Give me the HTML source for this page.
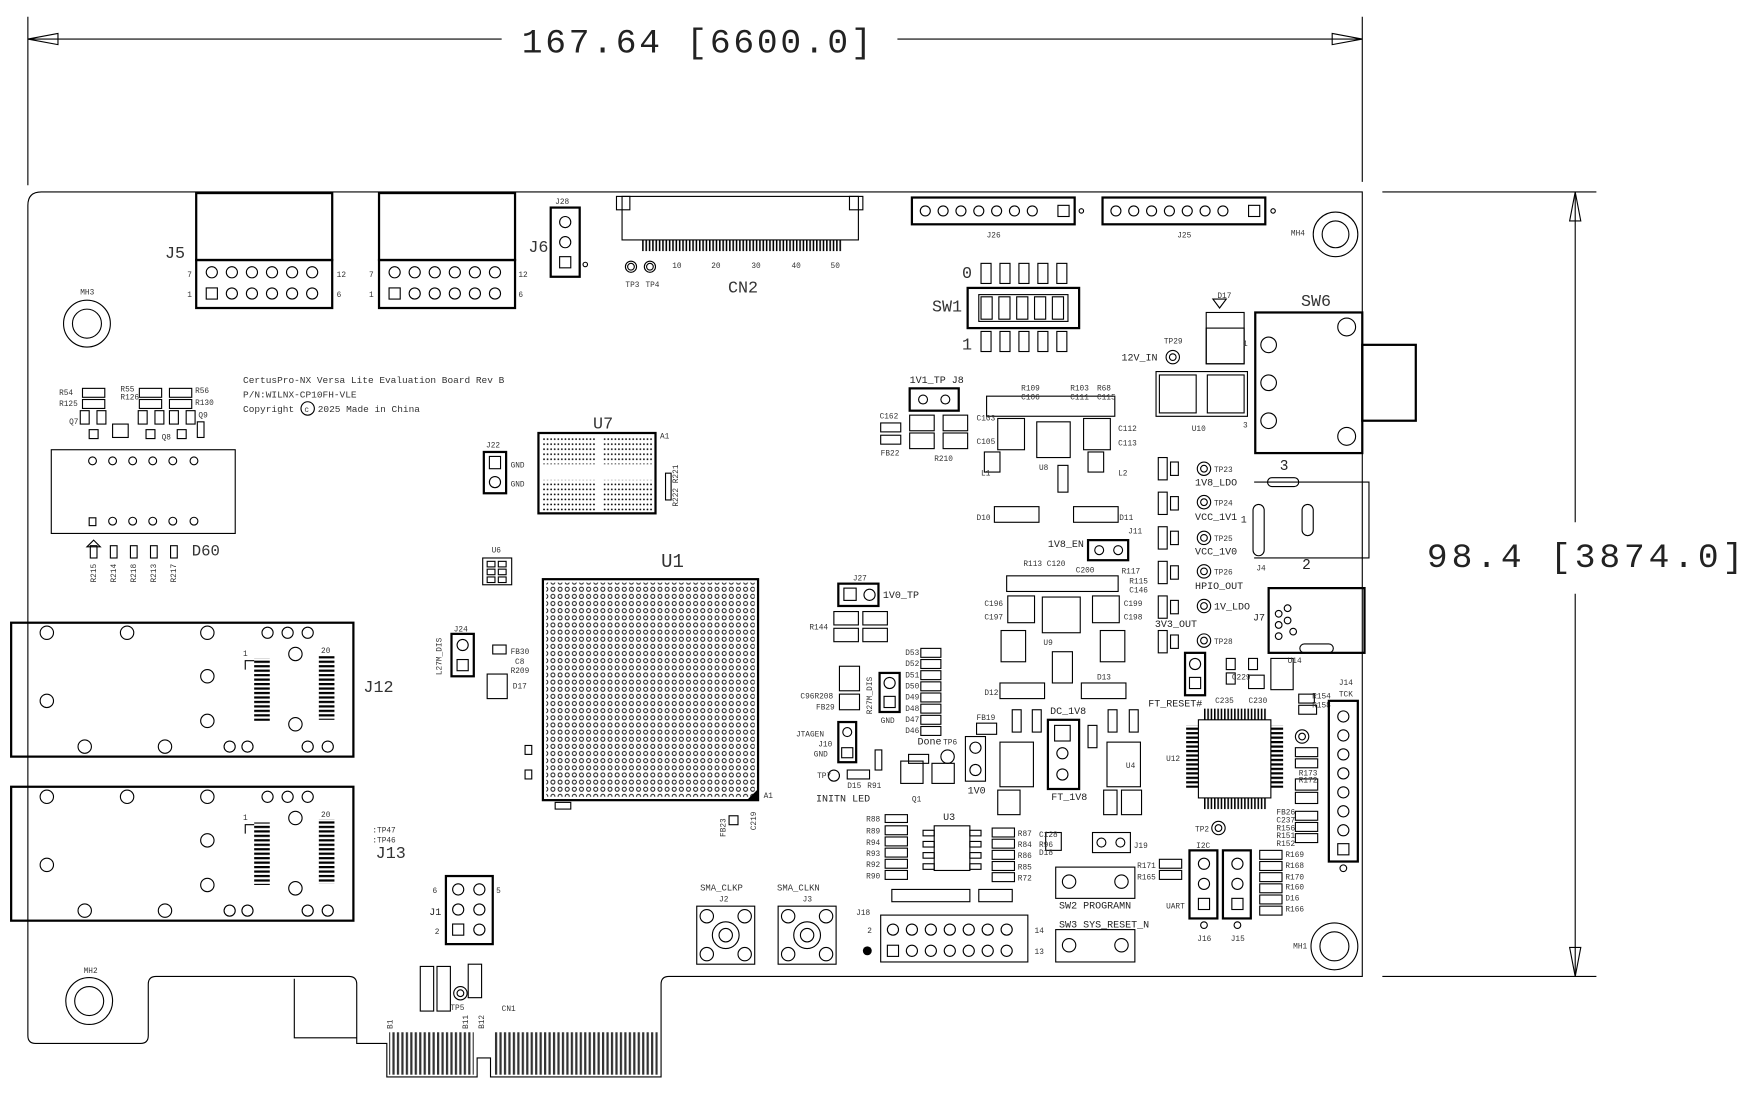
<!DOCTYPE html>
<html><head><meta charset="utf-8"><style>
html,body{margin:0;padding:0;background:#fff}
svg{display:block}
text{font-family:"Liberation Mono",monospace;fill:#222}
.s{fill:none;stroke:#000;stroke-width:1}
.t{fill:none;stroke:#000;stroke-width:2}
.l{font-size:7px;fill:#333}
.m{font-size:9px}
.b{font-family:"Liberation Mono",monospace;font-size:15px;fill:#333}
</style></head><body>
<svg width="1748" height="1097" viewBox="0 0 1568 983" preserveAspectRatio="none" xmlns="http://www.w3.org/2000/svg">
<defs>
<pattern id="bga" width="6.4" height="6.4" patternUnits="userSpaceOnUse"><circle cx="3.2" cy="3.2" r="1.8" fill="none" stroke="#000" stroke-width="0.8"/></pattern>
<pattern id="dots" width="3.2" height="4.5" patternUnits="userSpaceOnUse"><circle cx="1.6" cy="2" r="0.8" fill="#000"/></pattern>
<pattern id="teeth" width="3" height="10" patternUnits="userSpaceOnUse"><rect x="0" y="0" width="1.4" height="10" fill="#000"/></pattern>
<pattern id="pins" width="4" height="4" patternUnits="userSpaceOnUse"><rect x="0" y="0" width="4" height="2" fill="#000"/></pattern>
<pattern id="vpins" width="4" height="4" patternUnits="userSpaceOnUse"><rect x="0" y="0" width="2" height="4" fill="#000"/></pattern>
</defs>

<!-- dimensions -->
<g class="s">
<line x1="25" y1="15" x2="25" y2="166"/><line x1="1222" y1="15" x2="1222" y2="163"/>
<line x1="25" y1="35" x2="450" y2="35"/><line x1="805" y1="35" x2="1222" y2="35"/>
<path d="M25 35 L52 30 L52 40 Z"/><path d="M1222 35 L1195 30 L1195 40 Z"/>
<line x1="1240" y1="172" x2="1432" y2="172"/><line x1="1240" y1="875" x2="1432" y2="875"/>
<line x1="1413" y1="172" x2="1413" y2="468"/><line x1="1413" y1="532" x2="1413" y2="875"/>
<path d="M1413 172 L1408 198 L1418 198 Z"/><path d="M1413 875 L1408 849 L1418 849 Z"/>
</g>
<text x="468" y="47" style="font-size:31px;letter-spacing:2.5px;fill:#222">167.64 [6600.0]</text>
<text x="1280" y="508" style="font-size:31px;letter-spacing:3.5px;fill:#222">98.4 [3874.0]</text>

<!-- board outline -->
<path class="s" d="M25 184 Q25 172 37 172 L1222 172 L1222 875 L600 875 Q593 875 593 882 L593 965 L440 965 L440 948 L428 948 L428 965 L347 965 L347 935 L320 935 L320 882 Q320 875 313 875 L140 875 Q133 875 133 882 L133 928 Q133 935 126 935 L32 935 Q25 935 25 928 Z"/>
<path class="s" d="M264 877 L264 930 L320 930"/>
<rect x="349" y="925" width="76" height="38" fill="url(#vpins)" opacity="0.8"/>
<rect x="443" y="925" width="147" height="38" fill="url(#vpins)" opacity="0.8"/>
<text x="348" y="918" class="l" transform="rotate(-90 352 918)">B1</text>
<text x="416" y="918" class="l" transform="rotate(-90 420 918)">B11</text>
<text x="430" y="918" class="l" transform="rotate(-90 434 918)">B12</text>
<text x="450" y="906" class="l">CN1</text>

<!-- mounting holes -->
<g class="s">
<circle cx="78" cy="290" r="21"/><circle cx="78" cy="290" r="13"/>
<circle cx="1198" cy="210" r="20"/><circle cx="1198" cy="210" r="12"/>
<circle cx="80" cy="897" r="21"/><circle cx="80" cy="897" r="13"/>
<circle cx="1197" cy="848" r="21"/><circle cx="1197" cy="848" r="13"/>
</g>
<text x="72" y="264" class="l">MH3</text><text x="1158" y="211" class="l">MH4</text>
<text x="75" y="872" class="l">MH2</text><text x="1160" y="850" class="l">MH1</text>

<!-- J5 and second header -->
<g class="t">
<rect x="176" y="173" width="122" height="60"/><rect x="176" y="233" width="122" height="43"/>
<rect x="340" y="173" width="122" height="60"/><rect x="340" y="233" width="122" height="43"/>
</g>
<g class="s">
<circle cx="190" cy="244" r="5"/><circle cx="208" cy="244" r="5"/><circle cx="226" cy="244" r="5"/><circle cx="244" cy="244" r="5"/><circle cx="262" cy="244" r="5"/><circle cx="280" cy="244" r="5"/>
<rect x="185" y="258" width="10" height="10"/><circle cx="208" cy="263" r="5"/><circle cx="226" cy="263" r="5"/><circle cx="244" cy="263" r="5"/><circle cx="262" cy="263" r="5"/><circle cx="280" cy="263" r="5"/>
<circle cx="354" cy="244" r="5"/><circle cx="372" cy="244" r="5"/><circle cx="390" cy="244" r="5"/><circle cx="408" cy="244" r="5"/><circle cx="426" cy="244" r="5"/><circle cx="444" cy="244" r="5"/>
<rect x="349" y="258" width="10" height="10"/><circle cx="372" cy="263" r="5"/><circle cx="390" cy="263" r="5"/><circle cx="408" cy="263" r="5"/><circle cx="426" cy="263" r="5"/><circle cx="444" cy="263" r="5"/>
</g>
<text x="148" y="231" class="b">J5</text>
<text x="168" y="248" class="l">7</text><text x="168" y="266" class="l">1</text><text x="302" y="248" class="l">12</text><text x="302" y="266" class="l">6</text>
<text x="331" y="248" class="l">7</text><text x="331" y="266" class="l">1</text><text x="465" y="248" class="l">12</text><text x="465" y="266" class="l">6</text>

<!-- J28/J6 -->
<rect class="t" x="494" y="186" width="26" height="62"/>
<g class="s"><circle cx="507" cy="199" r="5"/><circle cx="507" cy="217" r="5"/><rect x="502" y="230" width="10" height="10"/><circle cx="525" cy="237" r="2"/></g>
<text x="498" y="183" class="l">J28</text><text x="474" y="226" class="b">J6</text>

<!-- CN2 -->
<rect class="s" x="558" y="176" width="212" height="39"/>
<rect class="s" x="553" y="176" width="12" height="12"/><rect class="s" x="762" y="176" width="12" height="12"/>
<rect x="575" y="215" width="180" height="10" fill="url(#teeth)"/>
<g class="s"><circle cx="566" cy="239" r="5"/><circle cx="566" cy="239" r="3"/><circle cx="583" cy="239" r="5"/><circle cx="583" cy="239" r="3"/></g>
<text x="603" y="240" class="l">10</text><text x="638" y="240" class="l">20</text><text x="674" y="240" class="l">30</text><text x="710" y="240" class="l">40</text><text x="745" y="240" class="l">50</text>
<text x="561" y="257" class="l">TP3</text><text x="579" y="257" class="l">TP4</text>
<text x="653" y="262" class="b">CN2</text>

<!-- J26 J25 -->
<rect class="t" x="818" y="177" width="146" height="24"/><rect class="t" x="989" y="177" width="146" height="24"/>
<g class="s">
<circle cx="830" cy="189" r="4.5"/><circle cx="846" cy="189" r="4.5"/><circle cx="862" cy="189" r="4.5"/><circle cx="878" cy="189" r="4.5"/><circle cx="894" cy="189" r="4.5"/><circle cx="910" cy="189" r="4.5"/><circle cx="926" cy="189" r="4.5"/><rect x="949" y="184" width="10" height="10"/>
<circle cx="1001" cy="189" r="4.5"/><circle cx="1017" cy="189" r="4.5"/><circle cx="1033" cy="189" r="4.5"/><circle cx="1049" cy="189" r="4.5"/><circle cx="1065" cy="189" r="4.5"/><circle cx="1081" cy="189" r="4.5"/><circle cx="1097" cy="189" r="4.5"/><rect x="1120" y="184" width="10" height="10"/>
<circle cx="970" cy="189" r="2"/><circle cx="1142" cy="189" r="2"/>
</g>
<text x="885" y="213" class="l">J26</text><text x="1056" y="213" class="l">J25</text>

<!-- SW1 -->
<g class="s">
<rect x="880" y="236" width="9" height="18"/><rect x="897" y="236" width="9" height="18"/><rect x="914" y="236" width="9" height="18"/><rect x="931" y="236" width="9" height="18"/><rect x="948" y="236" width="9" height="18"/>
<rect x="880" y="297" width="9" height="18"/><rect x="897" y="297" width="9" height="18"/><rect x="914" y="297" width="9" height="18"/><rect x="931" y="297" width="9" height="18"/><rect x="948" y="297" width="9" height="18"/>
<rect x="878" y="264" width="80" height="24"/>
<path d="M880 266h10v20h-10z M896 266h10v20h-10z M912 266h10v20h-10z M928 266h10v20h-10z M944 266h10v20h-10z"/>
</g>
<rect class="t" x="868" y="258" width="100" height="36"/>
<text x="863" y="249" class="b">0</text><text x="863" y="313" class="b">1</text><text x="836" y="279" class="b">SW1</text>

<!-- SW6, D17, U10, J4, J7 -->
<rect class="t" x="1126" y="280" width="96" height="126"/>
<rect class="t" x="1222" y="309" width="48" height="68"/>
<g class="s">
<circle cx="1208" cy="293" r="8"/><circle cx="1208" cy="391" r="8"/><circle cx="1138" cy="309" r="7"/><circle cx="1138" cy="343" r="7"/><circle cx="1138" cy="377" r="7"/>
<rect x="1082" y="280" width="34" height="46"/><rect x="1082" y="294" width="34" height="32"/><path d="M1088 268 L1094 276 L1100 268 Z"/>
<rect x="1040" y="336" width="33" height="34"/><rect x="1083" y="336" width="33" height="34"/><path d="M1037 333 h82 v40 h-82 z"/>
<circle cx="1052" cy="320" r="6"/><circle cx="1052" cy="320" r="3"/>
<path d="M1125 432 L1228 432 L1228 500 L1125 500"/><rect x="1137" y="428" width="28" height="8" rx="4"/><rect x="1168" y="452" width="10" height="28" rx="5"/><rect x="1124" y="452" width="10" height="46" rx="5"/>
<rect x="1166" y="577" width="30" height="8" rx="4"/>
<circle cx="1147" cy="550" r="3"/><circle cx="1155" cy="545" r="3"/><circle cx="1147" cy="560" r="3"/><circle cx="1155" cy="556" r="3"/><circle cx="1147" cy="570" r="3"/><circle cx="1160" cy="566" r="3"/>
</g>
<rect class="t" x="1138" y="527" width="86" height="58"/>
<text x="1167" y="274" class="b">SW6</text><text x="1092" y="267" class="l">D17</text><text x="1044" y="308" class="l">TP29</text>
<text x="1006" y="323" class="m">12V_IN</text><text x="1069" y="386" class="l">U10</text>
<text x="1115" y="310" class="l">1</text><text x="1115" y="383" class="l">3</text>
<text x="1148" y="421" class="m" style="font-size:13px">3</text><text x="1168" y="510" class="m" style="font-size:13px">2</text>
<text x="1127" y="511" class="l">J4</text><text x="1124" y="556" class="m">J7</text><text x="1113" y="468" class="m">1</text>

<!-- TP column right of center -->
<g class="s">
<circle cx="1080" cy="420" r="6"/><circle cx="1080" cy="420" r="3"/>
<circle cx="1080" cy="450" r="6"/><circle cx="1080" cy="450" r="3"/>
<circle cx="1080" cy="482" r="6"/><circle cx="1080" cy="482" r="3"/>
<circle cx="1080" cy="512" r="6"/><circle cx="1080" cy="512" r="3"/>
<circle cx="1080" cy="543" r="6"/><circle cx="1080" cy="543" r="3"/>
<circle cx="1080" cy="574" r="6"/><circle cx="1080" cy="574" r="3"/>
<rect x="1039" y="410" width="8" height="20"/><rect x="1039" y="441" width="8" height="20"/><rect x="1039" y="472" width="8" height="20"/><rect x="1039" y="503" width="8" height="20"/><rect x="1039" y="534" width="8" height="20"/><rect x="1039" y="565" width="8" height="20"/>
<rect x="1050" y="414" width="7" height="12"/><rect x="1050" y="445" width="7" height="12"/><rect x="1050" y="476" width="7" height="12"/><rect x="1050" y="507" width="7" height="12"/><rect x="1050" y="538" width="7" height="12"/><rect x="1050" y="569" width="7" height="12"/>
</g>
<text x="1089" y="423" class="l">TP23</text><text x="1072" y="435" class="m">1V8_LDO</text>
<text x="1089" y="453" class="l">TP24</text><text x="1072" y="466" class="m">VCC_1V1</text>
<text x="1089" y="485" class="l">TP25</text><text x="1072" y="497" class="m">VCC_1V0</text>
<text x="1089" y="515" class="l">TP26</text><text x="1072" y="528" class="m">HPIO_OUT</text>
<text x="1089" y="546" class="m">1V_LDO</text><text x="1036" y="562" class="m">3V3_OUT</text>
<text x="1089" y="577" class="l">TP28</text>

<!-- U7 -->
<rect class="t" x="483" y="388" width="105" height="72"/>
<rect x="486" y="392" width="48" height="24" fill="url(#dots)"/><rect x="540" y="392" width="45" height="24" fill="url(#dots)"/>
<rect x="486" y="430" width="48" height="28" fill="url(#dots)"/><rect x="540" y="430" width="45" height="28" fill="url(#dots)"/>
<text x="532" y="384" class="b">U7</text><text x="592" y="393" class="l">A1</text>
<rect class="s" x="597" y="424" width="5" height="24"/>
<text x="606" y="452" class="l" transform="rotate(-90 608 452)">R222 R221</text>

<!-- J22 -->
<rect class="t" x="434" y="405" width="20" height="37"/>
<g class="s"><rect x="439" y="409" width="10" height="11"/><circle cx="444" cy="432" r="5"/></g>
<text x="436" y="401" class="l">J22</text><text x="458" y="419" class="l">GND</text><text x="458" y="436" class="l">GND</text>

<!-- text block -->
<text x="218" y="343" class="l" style="font-size:8.5px">CertusPro-NX Versa Lite Evaluation Board Rev B</text>
<text x="218" y="356" class="l" style="font-size:8.5px">P/N:WILNX-CP10FH-VLE</text>
<text x="218" y="369" class="l" style="font-size:8.5px">Copyright</text><circle class="s" cx="276" cy="366" r="6"/><text x="273" y="369" class="l">c</text>
<text x="285" y="369" class="l" style="font-size:8.5px">2025 Made in China</text>

<!-- left small parts -->
<g class="s">
<rect x="74" y="348" width="20" height="8"/><rect x="74" y="358" width="20" height="8"/>
<rect x="125" y="348" width="20" height="8"/><rect x="125" y="358" width="20" height="8"/>
<rect x="152" y="348" width="20" height="8"/><rect x="152" y="358" width="20" height="8"/>
<rect x="72" y="368" width="8" height="12"/><rect x="87" y="368" width="8" height="12"/><rect x="80" y="385" width="8" height="8"/>
<rect x="124" y="368" width="8" height="12"/><rect x="139" y="368" width="8" height="12"/><rect x="131" y="385" width="8" height="8"/>
<rect x="152" y="368" width="8" height="12"/><rect x="167" y="368" width="8" height="12"/><rect x="159" y="385" width="8" height="8"/>
<rect x="101" y="380" width="14" height="12"/><rect x="177" y="378" width="6" height="14"/>
</g>
<text x="53" y="354" class="l">R54</text><text x="53" y="364" class="l">R125</text><text x="108" y="351" class="l">R55</text><text x="108" y="358" class="l">R126</text>
<text x="175" y="352" class="l">R56</text><text x="175" y="363" class="l">R130</text><text x="62" y="380" class="l">Q7</text><text x="145" y="394" class="l">Q8</text><text x="178" y="374" class="l">Q9</text>

<!-- D60 -->
<rect class="s" x="46" y="403" width="165" height="75"/>
<g class="s">
<circle cx="83" cy="413" r="3.5"/><circle cx="101" cy="413" r="3.5"/><circle cx="119" cy="413" r="3.5"/><circle cx="137" cy="413" r="3.5"/><circle cx="155" cy="413" r="3.5"/><circle cx="174" cy="413" r="3.5"/>
<rect x="80" y="464" width="6" height="7"/><circle cx="101" cy="467" r="3.5"/><circle cx="119" cy="467" r="3.5"/><circle cx="137" cy="467" r="3.5"/><circle cx="155" cy="467" r="3.5"/><circle cx="174" cy="467" r="3.5"/>
<path d="M78 490 L84 484 L90 490 Z"/>
<rect x="81" y="489" width="6" height="11"/><rect x="99" y="489" width="6" height="11"/><rect x="117" y="489" width="6" height="11"/><rect x="135" y="489" width="6" height="11"/><rect x="153" y="489" width="6" height="11"/>
</g>
<text x="172" y="498" class="b" style="font-size:14px">D60</text>
<text x="86" y="522" class="l" transform="rotate(-90 86 522)">R215</text><text x="104" y="522" class="l" transform="rotate(-90 104 522)">R214</text><text x="122" y="522" class="l" transform="rotate(-90 122 522)">R218</text><text x="140" y="522" class="l" transform="rotate(-90 140 522)">R213</text><text x="158" y="522" class="l" transform="rotate(-90 158 522)">R217</text>

<!-- U6 & U1 -->
<rect class="s" x="433" y="500" width="26" height="24"/>
<g class="s"><rect x="437" y="503" width="7" height="5"/><rect x="447" y="503" width="7" height="5"/><rect x="437" y="510" width="7" height="5"/><rect x="447" y="510" width="7" height="5"/><rect x="437" y="517" width="7" height="5"/><rect x="447" y="517" width="7" height="5"/></g>
<text x="441" y="495" class="l">U6</text>
<rect class="t" x="487" y="519" width="193" height="198"/>
<rect x="490" y="522" width="187" height="192" fill="url(#bga)"/>
<path d="M670 717 L680 717 L680 707 Z" fill="#000"/>
<text x="593" y="508" class="b" style="font-size:17px">U1</text><text x="685" y="715" class="l">A1</text>

<!-- J12 / J13 -->
<rect class="t" x="10" y="558" width="307" height="120"/><rect class="t" x="10" y="705" width="307" height="120"/>
<g class="s">
<circle cx="42" cy="567" r="6"/><circle cx="114" cy="567" r="6"/><circle cx="186" cy="567" r="6"/><circle cx="240" cy="567" r="5"/><circle cx="258" cy="567" r="5"/><circle cx="276" cy="567" r="5"/>
<circle cx="42" cy="628" r="6"/><circle cx="186" cy="606" r="6"/><circle cx="186" cy="646" r="6"/><circle cx="265" cy="586" r="6"/><circle cx="265" cy="649" r="6"/>
<circle cx="76" cy="669" r="6"/><circle cx="148" cy="669" r="6"/><circle cx="206" cy="669" r="5"/><circle cx="222" cy="669" r="5"/><circle cx="276" cy="669" r="5"/><circle cx="294" cy="669" r="5"/>
<circle cx="42" cy="714" r="6"/><circle cx="114" cy="714" r="6"/><circle cx="186" cy="714" r="6"/><circle cx="240" cy="714" r="5"/><circle cx="258" cy="714" r="5"/><circle cx="276" cy="714" r="5"/>
<circle cx="42" cy="775" r="6"/><circle cx="186" cy="753" r="6"/><circle cx="186" cy="793" r="6"/><circle cx="265" cy="733" r="6"/><circle cx="265" cy="796" r="6"/>
<circle cx="76" cy="816" r="6"/><circle cx="148" cy="816" r="6"/><circle cx="206" cy="816" r="5"/><circle cx="222" cy="816" r="5"/><circle cx="276" cy="816" r="5"/><circle cx="294" cy="816" r="5"/>
<path d="M220 600 v-8 h8"/><path d="M220 747 v-8 h8"/>
</g>
<rect x="228" y="590" width="14" height="56" fill="url(#pins)"/><rect x="286" y="587" width="14" height="58" fill="url(#pins)"/>
<rect x="228" y="737" width="14" height="56" fill="url(#pins)"/><rect x="286" y="734" width="14" height="58" fill="url(#pins)"/>
<text x="218" y="588" class="l">1</text><text x="288" y="585" class="l">20</text><text x="218" y="735" class="l">1</text><text x="288" y="732" class="l">20</text>
<text x="326" y="620" class="b">J12</text><text x="337" y="769" class="b">J13</text>
<text x="334" y="746" class="l">:TP47</text><text x="334" y="755" class="l">:TP46</text>

<!-- J24 etc -->
<rect class="t" x="405" y="568" width="20" height="38"/>
<g class="s"><circle cx="415" cy="578" r="5"/><rect x="410" y="591" width="10" height="10"/><rect x="442" y="578" width="12" height="8"/><rect x="437" y="604" width="18" height="22"/></g>
<text x="407" y="566" class="l">J24</text><text x="396" y="605" class="l" transform="rotate(-90 396 605)">L27M_DIS</text>
<text x="458" y="586" class="l">FB30</text><text x="462" y="595" class="l">C8</text><text x="458" y="603" class="l">R209</text><text x="460" y="617" class="l">D17</text>

<!-- J1 -->
<rect class="t" x="400" y="785" width="42" height="61"/>
<g class="s"><circle cx="411" cy="797" r="5"/><circle cx="430" cy="797" r="5"/><circle cx="411" cy="815" r="5"/><circle cx="430" cy="815" r="5"/><rect x="406" y="828" width="10" height="10"/><circle cx="430" cy="833" r="5"/></g>
<text x="388" y="800" class="l">6</text><text x="445" y="800" class="l">5</text><text x="385" y="820" class="m">J1</text><text x="390" y="837" class="l">2</text>
<g class="s"><rect x="377" y="866" width="12" height="40"/><rect x="392" y="866" width="12" height="40"/><rect x="420" y="864" width="12" height="30"/><circle cx="413" cy="890" r="6"/><circle cx="413" cy="890" r="3"/></g>
<text x="404" y="905" class="l">TP5</text>

<!-- middle region: J27, J23, D46-53 etc -->
<rect class="t" x="752" y="523" width="36" height="20"/>
<g class="s"><rect x="757" y="527" width="11" height="11"/><circle cx="780" cy="533" r="5"/>
<rect x="748" y="548" width="22" height="12"/><rect x="774" y="548" width="22" height="12"/><rect x="748" y="563" width="22" height="12"/><rect x="774" y="563" width="22" height="12"/></g>
<text x="765" y="520" class="l">J27</text><text x="792" y="536" class="m">1V0_TP</text><text x="726" y="564" class="l">R144</text>
<rect class="t" x="789" y="603" width="18" height="35"/>
<g class="s"><circle cx="798" cy="612" r="5"/><rect x="793" y="624" width="10" height="10"/>
<rect x="753" y="597" width="18" height="22"/><rect x="753" y="622" width="18" height="14"/>
<rect x="826" y="581" width="18" height="8"/><rect x="826" y="591" width="18" height="8"/><rect x="826" y="601" width="18" height="8"/><rect x="826" y="611" width="18" height="8"/><rect x="826" y="621" width="18" height="8"/><rect x="826" y="631" width="18" height="8"/><rect x="826" y="641" width="18" height="8"/><rect x="826" y="651" width="18" height="8"/>
</g>
<text x="812" y="587" class="l">D53</text><text x="812" y="597" class="l">D52</text><text x="812" y="607" class="l">D51</text><text x="812" y="617" class="l">D50</text><text x="812" y="627" class="l">D49</text><text x="812" y="637" class="l">D48</text><text x="812" y="647" class="l">D47</text><text x="812" y="657" class="l">D46</text>
<text x="782" y="640" class="l" transform="rotate(-90 782 640)">R27M_DIS</text><text x="790" y="648" class="l">GND</text>
<text x="718" y="626" class="l">C96R208</text><text x="732" y="636" class="l">FB29</text>
<text x="714" y="660" class="l">JTAGEN</text><text x="734" y="669" class="l">J10</text><text x="730" y="678" class="l">GND</text>
<rect class="t" x="752" y="647" width="16" height="36"/>
<g class="s"><circle cx="760" cy="656" r="4"/><rect x="755" y="670" width="10" height="9"/><circle cx="748" cy="695" r="5"/><rect x="760" y="690" width="20" height="8"/><rect x="785" y="672" width="6" height="18"/><rect x="808" y="682" width="20" height="20"/><rect x="815" y="676" width="18" height="8"/><rect x="836" y="684" width="20" height="18"/><circle cx="850" cy="678" r="6"/></g>
<text x="733" y="697" class="l">TP7</text><text x="760" y="706" class="l">D15</text><text x="778" y="706" class="l">R91</text>
<text x="732" y="718" class="m">INITN LED</text><text x="823" y="667" class="m">Done</text><text x="846" y="667" class="l">TP6</text>
<text x="818" y="718" class="l">Q1</text>

<!-- 1V1_TP J8 area -->
<rect class="t" x="816" y="348" width="44" height="20"/>
<g class="s"><circle cx="828" cy="358" r="4"/><circle cx="848" cy="358" r="4"/>
<rect x="816" y="372" width="22" height="14"/><rect x="846" y="372" width="22" height="14"/><rect x="816" y="388" width="22" height="14"/><rect x="846" y="388" width="22" height="14"/>
<rect x="790" y="379" width="18" height="8"/><rect x="790" y="390" width="18" height="8"/>
<rect x="930" y="378" width="30" height="32"/><rect x="895" y="375" width="24" height="28"/><rect x="972" y="375" width="24" height="28"/>
<rect x="883" y="405" width="14" height="18"/><rect x="976" y="405" width="14" height="18"/>
<rect x="885" y="355" width="115" height="18"/>
<rect x="892" y="454" width="40" height="14"/><rect x="963" y="454" width="40" height="14"/>
<rect x="949" y="417" width="9" height="24"/>
</g>
<text x="816" y="343" class="m">1V1_TP J8</text><text x="789" y="375" class="l">C162</text><text x="790" y="408" class="l">FB22</text>
<text x="876" y="377" class="l">C103</text><text x="876" y="398" class="l">C105</text><text x="838" y="413" class="l">R210</text>
<text x="880" y="426" class="l">L1</text><text x="1003" y="426" class="l">L2</text><text x="932" y="421" class="l">U8</text>
<text x="1003" y="386" class="l">C112</text><text x="1003" y="399" class="l">C113</text>
<text x="916" y="350" class="l">R109</text><text x="960" y="350" class="l">R103</text><text x="984" y="350" class="l">R68</text><text x="916" y="358" class="l">C106</text><text x="960" y="358" class="l">C111</text><text x="984" y="358" class="l">C115</text>
<text x="876" y="466" class="l">D10</text><text x="1004" y="466" class="l">D11</text>

<!-- 1V8_EN J11 region -->
<text x="940" y="490" class="m">1V8_EN</text>
<rect class="t" x="976" y="484" width="36" height="18"/>
<g class="s"><circle cx="986" cy="493" r="4"/><circle cx="1003" cy="493" r="4"/>
<rect x="903" y="516" width="100" height="14"/><rect x="935" y="535" width="34" height="32"/><rect x="904" y="534" width="24" height="24"/><rect x="980" y="534" width="24" height="24"/>
<rect x="898" y="565" width="22" height="28"/><rect x="987" y="565" width="22" height="28"/><rect x="944" y="584" width="18" height="28"/>
<rect x="897" y="612" width="40" height="14"/><rect x="970" y="612" width="40" height="14"/>
</g>
<text x="1012" y="478" class="l">J11</text><text x="918" y="507" class="l">R113 C120</text><text x="965" y="513" class="l">C200</text>
<text x="1006" y="514" class="l">R117</text><text x="1013" y="523" class="l">R115</text><text x="1013" y="531" class="l">C146</text>
<text x="883" y="543" class="l">C196</text><text x="883" y="555" class="l">C197</text><text x="1008" y="543" class="l">C199</text><text x="1008" y="555" class="l">C198</text>
<text x="936" y="578" class="l">U9</text><text x="883" y="623" class="l">D12</text><text x="984" y="609" class="l">D13</text>

<!-- DC_1V8 / FT_1V8 region -->
<rect class="t" x="940" y="645" width="28" height="62"/>
<g class="s"><rect x="946" y="650" width="14" height="14"/><circle cx="953" cy="675" r="5"/><circle cx="953" cy="694" r="5"/>
<rect x="866" y="660" width="18" height="40"/><circle cx="875" cy="670" r="5"/><circle cx="875" cy="690" r="5"/>
<rect x="897" y="665" width="30" height="40"/><rect x="993" y="665" width="30" height="40"/>
<rect x="895" y="708" width="20" height="22"/><rect x="1006" y="708" width="18" height="22"/><rect x="990" y="708" width="12" height="22"/>
<rect x="876" y="648" width="18" height="10"/><rect x="908" y="636" width="8" height="20"/><rect x="926" y="636" width="8" height="20"/><rect x="994" y="636" width="8" height="20"/><rect x="1013" y="636" width="8" height="20"/>
<rect x="976" y="650" width="8" height="20"/>
</g>
<text x="942" y="640" class="m">DC_1V8</text><text x="943" y="717" class="m">FT_1V8</text><text x="868" y="711" class="m">1V0</text>
<text x="876" y="645" class="l">FB19</text><text x="1010" y="688" class="l">U4</text>
<text x="1030" y="633" class="m">FT_RESET#</text>
<rect class="t" x="1063" y="585" width="18" height="38"/>
<g class="s"><circle cx="1072" cy="595" r="5"/><rect x="1067" y="607" width="10" height="10"/>
<rect x="1100" y="590" width="8" height="10"/><rect x="1100" y="603" width="8" height="10"/><rect x="1120" y="590" width="8" height="10"/><rect x="1120" y="605" width="14" height="12"/><rect x="1140" y="590" width="20" height="28"/>
</g>
<text x="1155" y="594" class="l">U14</text><text x="1105" y="609" class="l">C229</text><text x="1090" y="630" class="l">C235</text><text x="1120" y="630" class="l">C230</text>

<!-- U12 -->
<rect class="s" x="1075" y="645" width="65" height="70"/>
<rect x="1080" y="635" width="56" height="10" fill="url(#teeth)"/><rect x="1080" y="715" width="56" height="10" fill="url(#teeth)"/>
<rect x="1064" y="650" width="11" height="56" fill="url(#pins)"/><rect x="1140" y="650" width="11" height="56" fill="url(#pins)"/>
<text x="1046" y="682" class="l">U12</text>
<g class="s"><circle cx="1168" cy="660" r="6"/><circle cx="1168" cy="660" r="3"/><circle cx="1093" cy="742" r="6"/><circle cx="1093" cy="742" r="3"/>
<rect x="1162" y="670" width="20" height="8"/><rect x="1162" y="680" width="20" height="8"/><rect x="1162" y="698" width="20" height="10"/><rect x="1162" y="710" width="20" height="10"/>
<rect x="1162" y="727" width="20" height="8"/><rect x="1162" y="737" width="20" height="8"/><rect x="1162" y="747" width="20" height="8"/>
<rect x="1165" y="622" width="14" height="8"/><rect x="1165" y="632" width="16" height="8"/></g>
<text x="1072" y="745" class="l">TP2</text><text x="1165" y="695" class="l">R173</text><text x="1165" y="701" class="l">R172</text>
<text x="1145" y="730" class="l">FB26</text><text x="1145" y="737" class="l">C237</text><text x="1145" y="744" class="l">R156</text><text x="1145" y="751" class="l">R151</text><text x="1145" y="758" class="l">R152</text>
<text x="1177" y="626" class="l">R154</text><text x="1177" y="634" class="l">R158</text>

<!-- J14 -->
<rect class="t" x="1192" y="628" width="26" height="144"/>
<g class="s"><circle cx="1205" cy="642" r="5"/><circle cx="1205" cy="659" r="5"/><circle cx="1205" cy="676" r="5"/><circle cx="1205" cy="693" r="5"/><circle cx="1205" cy="710" r="5"/><circle cx="1205" cy="727" r="5"/><circle cx="1205" cy="744" r="5"/><rect x="1200" y="756" width="10" height="10"/><circle cx="1205" cy="778" r="3"/></g>
<text x="1201" y="614" class="l">J14</text><text x="1201" y="624" class="l">TCK</text>

<!-- U3 and resistors -->
<rect class="s" x="838" y="740" width="32" height="40"/>
<g class="s">
<rect x="828" y="744" width="10" height="5"/><rect x="828" y="754" width="10" height="5"/><rect x="828" y="764" width="10" height="5"/><rect x="828" y="774" width="10" height="5"/>
<rect x="870" y="744" width="10" height="5"/><rect x="870" y="754" width="10" height="5"/><rect x="870" y="764" width="10" height="5"/><rect x="870" y="774" width="10" height="5"/>
<rect x="794" y="730" width="20" height="7"/><rect x="794" y="740" width="20" height="8"/><rect x="794" y="750" width="20" height="8"/><rect x="794" y="760" width="20" height="8"/><rect x="794" y="770" width="20" height="8"/><rect x="794" y="780" width="20" height="8"/>
<rect x="890" y="742" width="20" height="8"/><rect x="890" y="752" width="20" height="8"/><rect x="890" y="762" width="20" height="8"/><rect x="890" y="772" width="20" height="8"/><rect x="890" y="782" width="20" height="8"/>
<rect x="800" y="797" width="70" height="11"/><rect x="878" y="797" width="30" height="11"/>
<rect x="938" y="746" width="14" height="16"/><rect x="980" y="746" width="34" height="18"/><circle cx="988" cy="755" r="4"/><circle cx="1005" cy="755" r="4"/>
<rect x="1040" y="770" width="20" height="8"/><rect x="1040" y="780" width="20" height="8"/>
</g>
<text x="846" y="735" class="m">U3</text>
<text x="777" y="736" class="l">R88</text><text x="777" y="747" class="l">R89</text><text x="777" y="757" class="l">R94</text><text x="777" y="767" class="l">R93</text><text x="777" y="777" class="l">R92</text><text x="777" y="787" class="l">R90</text>
<text x="913" y="749" class="l">R87</text><text x="913" y="759" class="l">R84</text><text x="913" y="769" class="l">R86</text><text x="913" y="779" class="l">R85</text><text x="913" y="789" class="l">R72</text>
<text x="932" y="750" class="l">C128</text><text x="932" y="759" class="l">R96</text><text x="932" y="766" class="l">D18</text>
<text x="1017" y="760" class="l">J19</text><text x="1020" y="778" class="l">R171</text><text x="1020" y="788" class="l">R165</text>

<!-- SW2 SW3 J18 -->
<rect class="s" x="947" y="777" width="71" height="28"/><rect class="s" x="947" y="833" width="71" height="29"/>
<g class="s"><circle cx="959" cy="790" r="6"/><circle cx="1006" cy="790" r="6"/><circle cx="959" cy="847" r="6"/><circle cx="1006" cy="847" r="6"/></g>
<text x="950" y="814" class="m">SW2 PROGRAMN</text><text x="950" y="831" class="m">SW3 SYS_RESET_N</text>
<rect class="s" x="790" y="820" width="132" height="42"/>
<g class="s">
<circle cx="801" cy="833" r="5"/><circle cx="818" cy="833" r="5"/><circle cx="835" cy="833" r="5"/><circle cx="852" cy="833" r="5"/><circle cx="869" cy="833" r="5"/><circle cx="886" cy="833" r="5"/><circle cx="903" cy="833" r="5"/>
<rect x="796" y="847" width="10" height="10"/><circle cx="818" cy="852" r="5"/><circle cx="835" cy="852" r="5"/><circle cx="852" cy="852" r="5"/><circle cx="869" cy="852" r="5"/><circle cx="886" cy="852" r="5"/><circle cx="903" cy="852" r="5"/>
</g>
<circle cx="778" cy="852" r="4" fill="#000"/>
<text x="768" y="820" class="l">J18</text><text x="778" y="836" class="l">2</text><text x="928" y="836" class="l">14</text><text x="928" y="855" class="l">13</text>

<!-- SMA -->
<g class="s">
<rect x="625" y="812" width="52" height="52"/><circle cx="651" cy="838" r="12"/><circle cx="651" cy="838" r="6"/><circle cx="634" cy="821" r="6"/><circle cx="668" cy="821" r="6"/><circle cx="634" cy="855" r="6"/><circle cx="668" cy="855" r="6"/>
<rect x="698" y="812" width="52" height="52"/><circle cx="724" cy="838" r="12"/><circle cx="724" cy="838" r="6"/><circle cx="707" cy="821" r="6"/><circle cx="741" cy="821" r="6"/><circle cx="707" cy="855" r="6"/><circle cx="741" cy="855" r="6"/>
</g>
<text x="628" y="798" class="l" style="font-size:8px">SMA_CLKP</text><text x="645" y="808" class="l">J2</text>
<text x="697" y="798" class="l" style="font-size:8px">SMA_CLKN</text><text x="720" y="808" class="l">J3</text>

<!-- J16 J15 -->
<rect class="t" x="1067" y="762" width="25" height="61"/><rect class="t" x="1097" y="762" width="25" height="61"/>
<g class="s"><circle cx="1080" cy="774" r="5"/><circle cx="1080" cy="792" r="5"/><rect x="1075" y="805" width="10" height="10"/><circle cx="1080" cy="829" r="3"/>
<circle cx="1110" cy="774" r="5"/><circle cx="1110" cy="792" r="5"/><rect x="1105" y="805" width="10" height="10"/><circle cx="1110" cy="829" r="3"/>
<rect x="1130" y="762" width="20" height="8"/><rect x="1130" y="772" width="20" height="8"/><rect x="1130" y="782" width="20" height="8"/><rect x="1130" y="792" width="20" height="8"/><rect x="1130" y="802" width="20" height="8"/><rect x="1130" y="812" width="20" height="8"/></g>
<text x="1073" y="760" class="l">I2C</text><text x="1046" y="814" class="l">UART</text><text x="1074" y="843" class="l">J16</text><text x="1104" y="843" class="l">J15</text>
<text x="1153" y="768" class="l">R169</text><text x="1153" y="778" class="l">R168</text><text x="1153" y="788" class="l">R170</text><text x="1153" y="797" class="l">R160</text><text x="1153" y="807" class="l">D16</text><text x="1153" y="817" class="l">R166</text>

<!-- misc small caps near U1 -->
<g class="s"><rect x="471" y="668" width="6" height="8"/><rect x="471" y="690" width="6" height="8"/><rect x="498" y="719" width="14" height="6"/><rect x="654" y="731" width="8" height="8"/></g>
<text x="649" y="748" class="l" transform="rotate(-90 651 748)">FB23</text><text x="676" y="742" class="l" transform="rotate(-90 678 742)">C219</text>
</svg>
</body></html>
